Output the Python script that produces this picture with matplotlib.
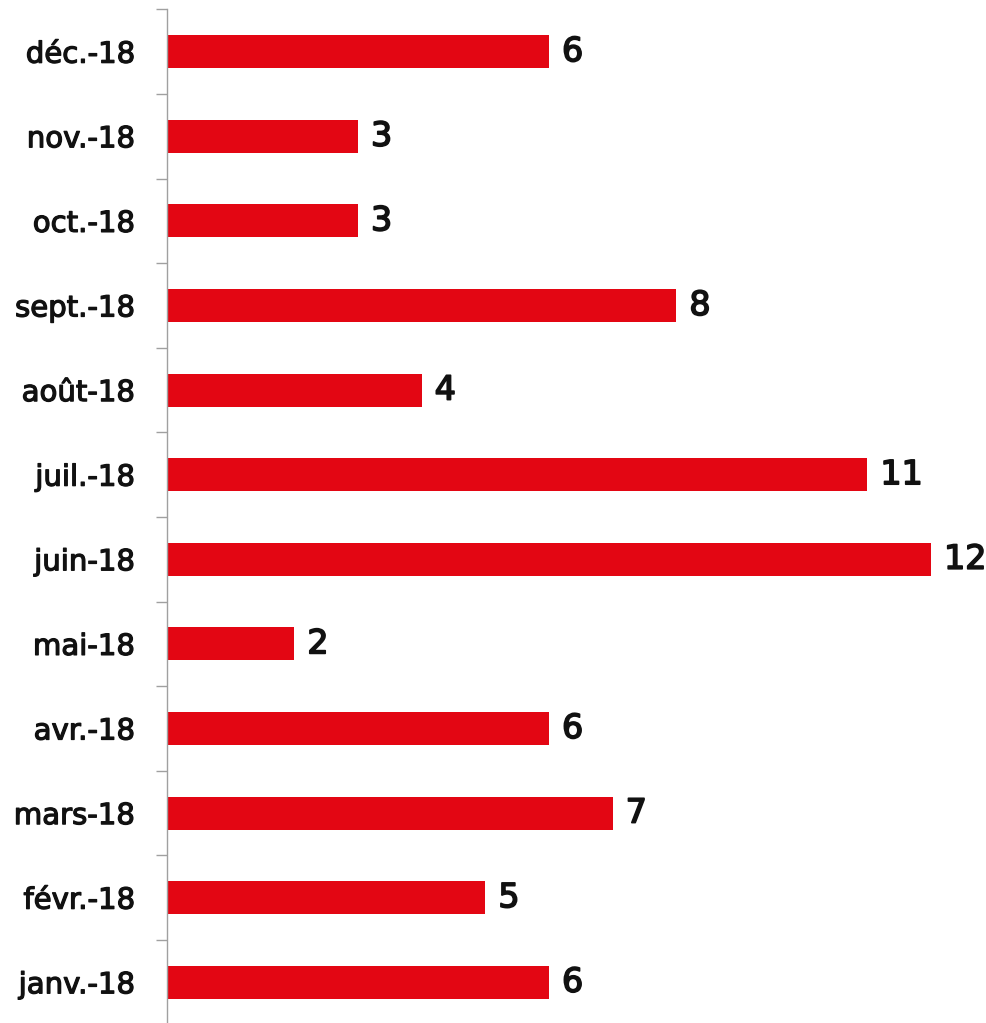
import matplotlib
matplotlib.use("Agg")
import matplotlib.pyplot as plt
import matplotlib.patheffects as pe
import numpy as np

categories = ["janv.-18", "févr.-18", "mars-18", "avr.-18", "mai-18", "juin-18",
              "juil.-18", "août-18", "sept.-18", "oct.-18", "nov.-18", "déc.-18"]
values = [6, 5, 7, 6, 2, 12, 11, 4, 8, 3, 3, 6]

W, H = 986, 1023
fig = plt.figure(figsize=(W / 100, H / 100), dpi=100)
left = 167 / W
top_px, bot_px = 9.4, 1024.6
ax = fig.add_axes([left, (H - bot_px) / H, 1 - left, (bot_px - top_px) / H])

y = np.arange(len(categories))
ax.barh(y, values, height=0.39, color="#E30613")
scale = 819 / 63.67
ax.set_xlim(0, scale)
ax.set_ylim(-0.5, len(categories) - 0.5)

for s in ["top", "right", "bottom"]:
    ax.spines[s].set_visible(False)
ax.spines["left"].set_color("#A0A0A0")
ax.spines["left"].set_linewidth(1.0)
ax.set_xticks([])
ax.set_yticks(y)
thick = [pe.withStroke(linewidth=0.9, foreground="#111111")]
ax.set_yticklabels(categories, fontfamily="DejaVu Sans", fontsize=21, color="#111111")
for t in ax.get_yticklabels():
    t.set_path_effects(thick)
ax.tick_params(axis="y", which="major", length=0, pad=23)
ax.set_yticks(np.arange(-0.5, len(categories), 1.0), minor=True)
ax.tick_params(axis="y", which="minor", length=8, width=1.0, color="#A0A0A0")

for yi, v in zip(y, values):
    ax.annotate(str(v), (v, yi), xytext=(13, 0), textcoords="offset pixels",
                va="center", ha="left", fontfamily="DejaVu Sans",
                fontsize=24, color="#111111",
                path_effects=[pe.withStroke(linewidth=1.2, foreground="#111111")])

fig.savefig("out.png", dpi=100)
